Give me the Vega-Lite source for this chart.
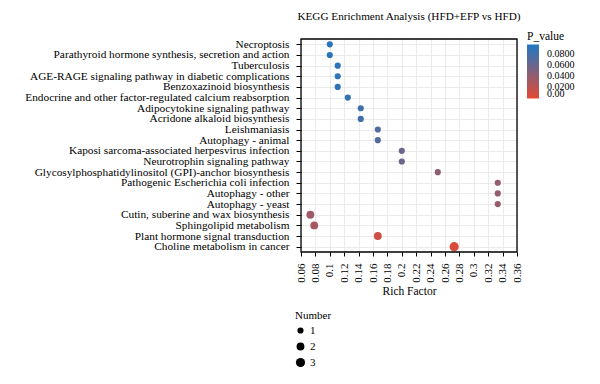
{
  "$schema": "https://vega.github.io/schema/vega-lite/v6.json",
  "width": 216,
  "height": 213,
  "autosize": "none",
  "padding": {"left": 301, "top": 39, "right": 83, "bottom": 132},
  "background": "white",
  "config": {
    "font": "Liberation Serif",
    "view": {"stroke": null},
    "axis": {"labelFont": "Liberation Serif", "titleFont": "Liberation Serif", "labelColor": "black", "titleColor": "black", "tickColor": "#000000", "gridColor": "#e6e6e6", "gridWidth": 0.8, "labelLimit": 0}
  },
  "title": {"text": "KEGG Enrichment Analysis (HFD+EFP vs HFD)", "fontSize": 11.2, "font": "Liberation Serif", "fontWeight": "normal", "anchor": "middle", "offset": 9, "color": "black"},
  "layer": [
    {
      "data": {"values": [
        {"pathway": "Necroptosis", "rich": 0.1, "p": 0.092, "number": 1},
        {"pathway": "Parathyroid hormone synthesis, secretion and action", "rich": 0.1, "p": 0.092, "number": 1},
        {"pathway": "Tuberculosis", "rich": 0.111, "p": 0.09, "number": 1},
        {"pathway": "AGE-RAGE signaling pathway in diabetic complications", "rich": 0.111, "p": 0.09, "number": 1},
        {"pathway": "Benzoxazinoid biosynthesis", "rich": 0.111, "p": 0.09, "number": 1},
        {"pathway": "Endocrine and other factor-regulated calcium reabsorption", "rich": 0.125, "p": 0.087, "number": 1},
        {"pathway": "Adipocytokine signaling pathway", "rich": 0.143, "p": 0.081, "number": 1},
        {"pathway": "Acridone alkaloid biosynthesis", "rich": 0.143, "p": 0.081, "number": 1},
        {"pathway": "Leishmaniasis", "rich": 0.1667, "p": 0.071, "number": 1},
        {"pathway": "Autophagy - animal", "rich": 0.1667, "p": 0.071, "number": 1},
        {"pathway": "Kaposi sarcoma-associated herpesvirus infection", "rich": 0.2, "p": 0.06, "number": 1},
        {"pathway": "Neurotrophin signaling pathway", "rich": 0.2, "p": 0.06, "number": 1},
        {"pathway": "Glycosylphosphatidylinositol (GPI)-anchor biosynthesis", "rich": 0.25, "p": 0.044, "number": 1},
        {"pathway": "Pathogenic Escherichia coli infection", "rich": 0.3333, "p": 0.038, "number": 1},
        {"pathway": "Autophagy - other", "rich": 0.3333, "p": 0.038, "number": 1},
        {"pathway": "Autophagy - yeast", "rich": 0.3333, "p": 0.038, "number": 1},
        {"pathway": "Cutin, suberine and wax biosynthesis", "rich": 0.073, "p": 0.036, "number": 2},
        {"pathway": "Sphingolipid metabolism", "rich": 0.0784, "p": 0.031, "number": 2},
        {"pathway": "Plant hormone signal transduction", "rich": 0.1667, "p": 0.011, "number": 2},
        {"pathway": "Choline metabolism in cancer", "rich": 0.2727, "p": 0.005, "number": 3}
      ]},
      "mark": {"type": "circle", "opacity": 1},
      "encoding": {
        "y": {"field": "pathway", "type": "nominal", "sort": null,
          "scale": {"type": "point", "padding": 0.5},
          "axis": {"title": null, "labelFontSize": 11.3, "tickSize": 5, "labelPadding": 7, "grid": true, "domain": false, "labelLimit": 0}},
        "x": {"field": "rich", "type": "quantitative",
          "scale": {"domain": [0.06, 0.36], "nice": false, "zero": false},
          "axis": {"title": "Rich Factor", "titleFontSize": 11.5, "titleFontWeight": "normal", "titlePadding": 3, "values": [0.06, 0.08, 0.1, 0.12, 0.14, 0.16, 0.18, 0.2, 0.22, 0.24, 0.26, 0.28, 0.3, 0.32, 0.34, 0.36], "format": "~g", "labelAngle": 270, "labelAlign": "right", "labelBaseline": "middle", "labelFontSize": 11, "tickSize": 4, "labelPadding": 7, "grid": true, "domain": false, "labelFlush": false, "labelOverlap": false}},
        "color": {"field": "p", "type": "quantitative",
          "scale": {"domain": [0, 0.0975], "range": ["#e34a33", "#1f77c4"], "interpolate": "rgb"},
          "legend": {"title": "P_value", "orient": "none", "legendX": 226, "legendY": -8, "direction": "vertical", "gradientLength": 54, "gradientThickness": 12, "values": [0, 0.02, 0.04, 0.06, 0.08], "labelOverlap": false, "labelExpr": "datum.value == 0 ? '0.00' : format(datum.value, '.4f')", "titleFontSize": 11.5, "titleFontWeight": "normal", "titleFont": "Liberation Serif", "labelFont": "Liberation Serif", "labelFontSize": 10, "labelOffset": 8, "titlePadding": 2, "titleColor": "black", "labelColor": "black"}},
        "size": {"field": "number", "type": "quantitative",
          "scale": {"domain": [1, 3], "range": [38, 85], "zero": false},
          "legend": {"title": "Number", "orient": "none", "legendX": -6, "legendY": 271, "direction": "vertical", "values": [1, 2, 3], "format": "d", "symbolFillColor": "black", "symbolStrokeWidth": 0, "symbolType": "circle", "titleFontSize": 11, "titleFontWeight": "normal", "titleFont": "Liberation Serif", "labelFont": "Liberation Serif", "labelFontSize": 11, "titleColor": "black", "labelColor": "black", "rowPadding": 4, "titlePadding": 4}}
      }
    },
    {
      "data": {"values": [{"frame": 1}]},
      "mark": {"type": "rect", "fillOpacity": 0, "stroke": "#000000", "strokeWidth": 1.3},
      "encoding": {}
    }
  ]
}
